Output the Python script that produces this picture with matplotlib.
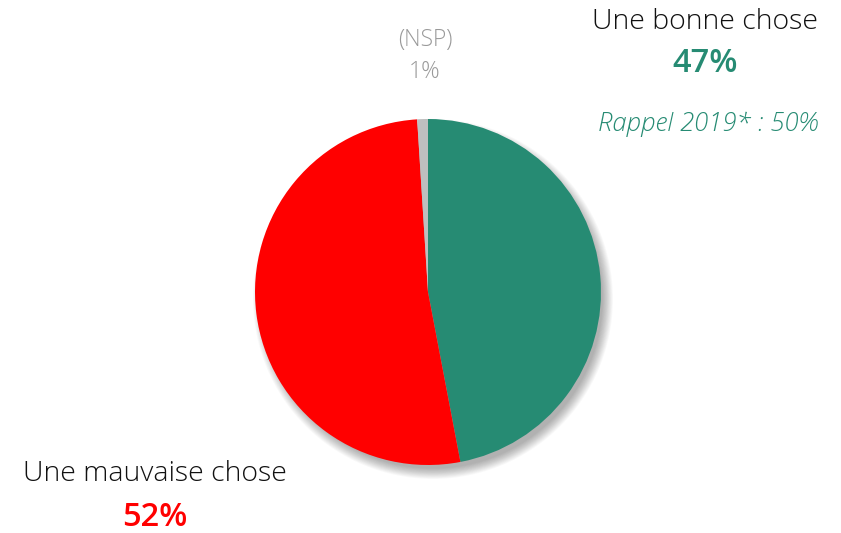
import matplotlib
matplotlib.use("Agg")
import matplotlib.pyplot as plt
from matplotlib.patches import Circle

categories = ["Une bonne chose", "Une mauvaise chose", "(NSP)"]
values = [47, 52, 1]
labels_pct = ["47%", "52%", "1%"]
recall_label = "Rappel 2019* : 50%"

colors = ["#268B73", "#FF0000", "#BFBFBF"]

W, H = 841, 533
fig = plt.figure(figsize=(W / 100, H / 100), dpi=100)
ax = fig.add_axes([0, 0, 1, 1])

cx, cy, r = 428, H - 292, 173

# soft shadow
n = 14
for i in range(n):
    rr = r + 7 - i * 0.8
    ax.add_patch(Circle((cx + 5, cy - 7), rr, color="#000000", alpha=0.025, lw=0, zorder=1))

ax.pie(values, colors=colors, startangle=90, counterclock=False,
       center=(cx, cy), radius=r, frame=True,
       wedgeprops=dict(linewidth=0, zorder=2))
ax.set_xlim(0, W)
ax.set_ylim(0, H)
ax.axis("off")

fam = ["Open Sans", "DejaVu Sans"]

def t(x, y, s, **kw):
    ax.text(x, H - y, s, ha="center", va="center", family=fam, **kw)

t(705, 22, categories[0], fontsize=20.5, color="#111111", weight="light")
t(705, 64, labels_pct[0], fontsize=23.5, color=colors[0], weight="semibold")
t(708, 124, recall_label, fontsize=18.5, color=colors[0], style="italic", weight="light")

t(425, 40, categories[2], fontsize=16.5, color="#999999", weight="light")
t(425, 72, labels_pct[2], fontsize=16.5, color="#999999", weight="light")

t(155, 474, categories[1], fontsize=20.5, color="#111111", weight="light")
t(155, 517, labels_pct[1], fontsize=23.5, color=colors[1], weight="semibold")

fig.savefig("out.png", dpi=100)
